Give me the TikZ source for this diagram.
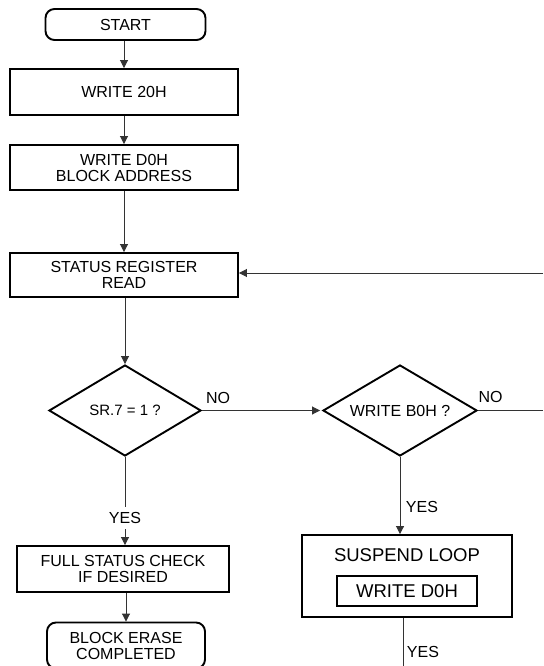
\documentclass[tikz,border=0pt]{standalone}
\usepackage{fontspec}
\setmainfont{Liberation Sans}
\usetikzlibrary{shapes.geometric,arrows.meta}
\begin{document}
\begin{tikzpicture}[x=1pt,y=-1pt,
  box/.style={draw=black,line width=1.9pt,rectangle,inner sep=0pt,align=center,
    font=\fontsize{16}{16}\selectfont},
  term/.style={box,rounded corners=9pt},
  dec/.style={draw=black,line width=1.9pt,diamond,aspect=1.7,inner sep=0pt,align=center,
    font=\fontsize{16}{16}\selectfont},
  conn/.style={draw=black!80,line width=0.9pt},
  arr/.style={conn,-{Triangle[length=8pt,width=8pt]}},
  lbl/.style={font=\fontsize{16}{16}\selectfont,inner sep=0pt}]
\useasboundingbox (0,0) rectangle (543,666);
\clip (0,0) rectangle (543,666);
% nodes
\node[term,minimum width=160pt,minimum height=31pt] (start) at (125.5,24.5) {START};
\node[box,minimum width=228pt,minimum height=46pt] (w20) at (124,92) {WRITE 20H};
\node[box,minimum width=228pt,minimum height=45pt] (wd0) at (124,167.5) {WRITE D0H\\BLOCK ADDRESS};
\node[box,minimum width=228pt,minimum height=44pt] (srr) at (124,275) {STATUS REGISTER\\READ};
\node[dec,minimum width=152pt,minimum height=91pt] (d1) at (125,410.5) {\fontsize{15}{15}\selectfont SR.7 = 1 ?};
\node[dec,minimum width=154pt,minimum height=91pt] (d2) at (400,410.5) {WRITE B0H ?};
\node[box,minimum width=212pt,minimum height=46pt] (fsc) at (123,569) {FULL STATUS CHECK\\IF DESIRED};
\node[term,minimum width=158pt,minimum height=46pt] (bec) at (126,645.5) {BLOCK ERASE\\COMPLETED};
\node[box,minimum width=210pt,minimum height=82pt] (sl) at (407,576) {};
\node[lbl,font=\fontsize{18.5}{18.5}\selectfont] (slt) at (407,555) {SUSPEND LOOP};
\node[box,minimum width=140pt,minimum height=30pt,font=\fontsize{18.5}{18.5}\selectfont] (wd0b) at (407,591) {WRITE D0H};
% free ends
\coordinate (rtop) at (543,273);
\coordinate (rmid) at (543,410.5);
\coordinate (bot) at (403,668);
% connectors
\draw[arr] (start.south -| w20.north) -- (w20.north);
\draw[arr] (w20) -- (wd0);
\draw[arr] (wd0) -- (srr);
\draw[arr] (rtop) -- (srr.east |- rtop);
\draw[arr] (srr.south -| d1.north) -- (d1.north);
\draw[arr] (d1.east) -- ([xshift=-2pt]d2.west);
\draw[conn] (d2.east) -- (rmid);
\draw[arr] (d1.south) -- (d1.south |- fsc.north);
\node[lbl,fill=white,inner xsep=1pt,inner ysep=5pt] (yes1) at (125,518) {YES};
\draw[arr] (fsc.south -| bec.north) -- (bec.north);
\draw[arr] (d2.south) -- (d2.south |- sl.north);
\draw[conn] (sl.south -| bot) -- (bot);
% labels
\node[lbl] (no1) at (218,398) {NO};
\node[lbl] (no2) at (490.5,397) {NO};
\node[lbl] (yes2) at (422,507) {YES};
\node[lbl] (yes3) at (423,652) {YES};
\end{tikzpicture}
\end{document}
